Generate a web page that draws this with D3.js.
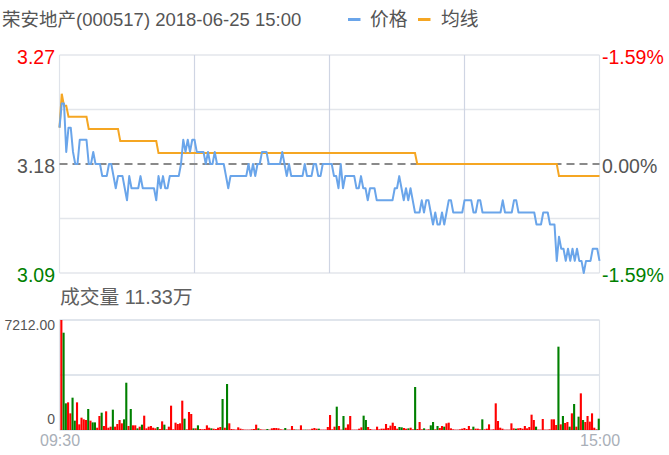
<!DOCTYPE html>
<html><head><meta charset="utf-8">
<script src="https://cdn.jsdelivr.net/npm/d3@7"></script>
<style>
body{margin:0;background:#fff;}
svg{display:block;font-family:"Liberation Sans","Noto Sans CJK SC",Arial,sans-serif;}
</style></head><body>
<svg id="c" width="669" height="455"></svg>
<script>
const titleText = "荣安地产(000517) 2018-06-25 15:00";
const legendNames = ["价格", "均线"];
const priceTicks = [3.27, 3.18, 3.09];
const priceTickClass = ["up", "flat", "down"];
const pctLabels = ["-1.59%", "0.00%", "-1.59%"];
const priceGrid = [3.27, 3.225, 3.135, 3.09];
const preClose = 3.18;
const timeGridIdx = [0, 60, 120, 180, 240];
const timeTicks = [0, 240];
const timeLabels = ["09:30", "15:00"];
const volTicks = [7212, 0];
const volTickLabels = ["7212.00", "0"];
const volGrid = [7212, 3606, 0];
const volTitle = "成交量 11.33万";

const price = [
3.21,3.23,3.23,3.19,3.21,3.21,3.19,3.18,3.18,3.20,
3.20,3.20,3.20,3.18,3.18,3.19,3.18,3.18,3.18,3.17,
3.17,3.17,3.18,3.18,3.17,3.16,3.17,3.17,3.17,3.16,
3.15,3.17,3.16,3.16,3.16,3.16,3.17,3.16,3.16,3.16,
3.16,3.16,3.16,3.15,3.17,3.16,3.17,3.16,3.16,3.17,
3.17,3.17,3.17,3.17,3.18,3.20,3.19,3.20,3.19,3.20,
3.20,3.19,3.19,3.19,3.19,3.18,3.19,3.18,3.18,3.19,
3.18,3.18,3.18,3.18,3.17,3.16,3.17,3.17,3.17,3.17,
3.17,3.17,3.17,3.17,3.18,3.17,3.18,3.17,3.18,3.18,
3.19,3.19,3.19,3.18,3.18,3.18,3.18,3.18,3.18,3.19,
3.18,3.17,3.18,3.17,3.17,3.17,3.17,3.17,3.17,3.18,
3.17,3.17,3.17,3.18,3.18,3.17,3.17,3.18,3.18,3.18,
3.18,3.18,3.17,3.17,3.16,3.18,3.16,3.17,3.17,3.17,
3.17,3.17,3.16,3.16,3.17,3.16,3.16,3.15,3.16,3.16,
3.16,3.15,3.15,3.15,3.15,3.15,3.15,3.15,3.15,3.16,
3.16,3.17,3.16,3.15,3.16,3.15,3.16,3.15,3.14,3.14,
3.14,3.15,3.14,3.15,3.15,3.14,3.13,3.14,3.13,3.13,
3.14,3.13,3.14,3.15,3.15,3.14,3.14,3.14,3.14,3.14,
3.15,3.15,3.15,3.15,3.14,3.14,3.15,3.15,3.14,3.14,
3.14,3.14,3.14,3.14,3.14,3.14,3.14,3.15,3.14,3.14,
3.14,3.14,3.15,3.15,3.14,3.14,3.14,3.14,3.14,3.14,
3.14,3.14,3.13,3.13,3.13,3.14,3.14,3.14,3.13,3.13,
3.13,3.10,3.12,3.11,3.11,3.10,3.11,3.10,3.11,3.10,
3.11,3.10,3.10,3.09,3.10,3.10,3.10,3.11,3.11,3.11,
3.10];

const avg = [
3.21,3.238,3.228,3.228,3.219,3.219,3.219,3.219,3.219,3.219,
3.219,3.219,3.219,3.209,3.209,3.209,3.209,3.209,3.209,3.209,
3.209,3.209,3.209,3.209,3.209,3.209,3.209,3.199,3.199,3.199,
3.199,3.199,3.199,3.199,3.199,3.199,3.199,3.199,3.199,3.199,
3.199,3.199,3.199,3.199,3.189,3.189,3.189,3.189,3.189,3.189,
3.189,3.189,3.189,3.189,3.189,3.189,3.189,3.189,3.189,3.189,
3.189,3.189,3.189,3.189,3.189,3.189,3.189,3.189,3.189,3.189,
3.189,3.189,3.189,3.189,3.189,3.189,3.189,3.189,3.189,3.189,
3.189,3.189,3.189,3.189,3.189,3.189,3.189,3.189,3.189,3.189,
3.189,3.189,3.189,3.189,3.189,3.189,3.189,3.189,3.189,3.189,
3.189,3.189,3.189,3.189,3.189,3.189,3.189,3.189,3.189,3.189,
3.189,3.189,3.189,3.189,3.189,3.189,3.189,3.189,3.189,3.189,
3.189,3.189,3.189,3.189,3.189,3.189,3.189,3.189,3.189,3.189,
3.189,3.189,3.189,3.189,3.189,3.189,3.189,3.189,3.189,3.189,
3.189,3.189,3.189,3.189,3.189,3.189,3.189,3.189,3.189,3.189,
3.189,3.189,3.189,3.189,3.189,3.189,3.189,3.189,3.189,3.180,
3.180,3.180,3.180,3.180,3.180,3.180,3.180,3.180,3.180,3.180,
3.180,3.180,3.180,3.180,3.180,3.180,3.180,3.180,3.180,3.180,
3.180,3.180,3.180,3.180,3.180,3.180,3.180,3.180,3.180,3.180,
3.180,3.180,3.180,3.180,3.180,3.180,3.180,3.180,3.180,3.180,
3.180,3.180,3.180,3.180,3.180,3.180,3.180,3.180,3.180,3.180,
3.180,3.180,3.180,3.180,3.180,3.180,3.180,3.180,3.180,3.180,
3.180,3.180,3.170,3.170,3.170,3.170,3.170,3.170,3.170,3.170,
3.170,3.170,3.170,3.170,3.170,3.170,3.170,3.170,3.170,3.170,
3.170];

const volume = [
7212,6380,1748,1813,1092,2119,612,1813,371,808,
700,655,1377,612,500,500,150,918,1136,262,
1224,150,218,1333,218,393,655,437,700,3100,
262,1377,306,306,109,218,350,940,109,218,
262,150,109,197,66,568,350,44,218,1595,
44,480,393,437,1923,743,44,1180,1049,109,
109,306,66,44,66,306,150,109,87,66,
150,197,2032,150,3015,437,66,44,22,175,
87,44,22,22,22,44,66,350,109,44,
22,22,66,22,109,131,131,109,44,22,
131,22,22,262,44,22,22,306,22,22,
22,22,87,131,87,87,22,22,22,197,
983,44,218,1530,262,22,918,150,371,918,
22,22,22,87,175,940,655,197,66,22,
22,218,44,87,87,393,131,284,480,262,
87,197,175,131,87,109,150,44,2819,66,
524,44,109,22,44,306,524,44,262,131,
262,218,437,480,109,44,22,22,44,87,
131,66,262,44,218,87,87,44,700,44,
87,371,22,44,1748,590,150,87,22,22,
22,437,109,87,109,131,87,262,109,197,
1005,655,218,22,22,721,22,22,44,700,
700,328,5463,371,918,459,524,218,1092,1704,
218,874,2403,655,524,918,546,1092,150,44,
743];

const volDir = (
"rggrrggrrr"+"rrgrggrrgr"+"rrrgrrrrgg"+"rgrrgrgrrr"+"rrrgrrgrrr"+
"rrrrrgrrrg"+"rgrrrrrgrr"+"rrgrgrrrrr"+"rrrrrrrrgr"+"rrgrrrrrrr"+
"grrrrgrrrg"+"rrrrrgrrrr"+"rrrgrrgrrr"+"rrrrrggrrr"+"rrrrrrrrrr"+
"rggrrgrrgr"+"rrgrrggrgr"+"rgrrrrrrrr"+"rrrrgrrrgr"+"rrrrrrrrrr"+
"rrrgrrrrrr"+"rrgrrrrrrr"+"rrgrgrrgrg"+"rgrgrrrrrr"+"g").split("");

const svg = d3.select("#c");
const L = 59.5, R = 599.5, PT = 55, PB = 273, VT = 320, VB = 430;
const RED = "#ff0000", GREEN = "#008000", GRAY = "#555";
const BLUE = "#6aa5ea", ORANGE = "#f5a623";

const x = d3.scaleLinear().domain([0, price.length - 1]).range([L, R]);
const y = d3.scaleLinear().domain([3.09, 3.27]).range([PB, PT]);
const xb = d3.scaleBand().domain(d3.range(volume.length)).range([L + 0.8, R + 0.3]).paddingInner(0.06);
const yv = d3.scaleLinear().domain([0, 7212]).range([VB, VT]);

// title
svg.append("text").attr("x", 2).attr("y", 26).attr("font-size", 18.5).attr("fill", GRAY).text(titleText);
// legend
const lg = [{n: legendNames[0], c: BLUE, lx: 348, tx: 370}, {n: legendNames[1], c: ORANGE, lx: 418, tx: 441}];
lg.forEach(d => {
  svg.append("line").attr("x1", d.lx).attr("x2", d.lx + 12.5).attr("y1", 19.5).attr("y2", 19.5)
    .attr("stroke", d.c).attr("stroke-width", 3);
  svg.append("text").attr("x", d.tx).attr("y", 26).attr("font-size", 18.8).attr("fill", GRAY).text(d.n);
});

// price grid
const g = svg.append("g");
g.selectAll("line.h").data(priceGrid).join("line").attr("class", "h")
  .attr("x1", L).attr("x2", R).attr("y1", d => y(d)).attr("y2", d => y(d))
  .attr("stroke", "#e3e6eb").attr("stroke-width", 1.6);
g.selectAll("line.v").data(timeGridIdx).join("line").attr("class", "v")
  .attr("x1", d => x(d)).attr("x2", d => x(d)).attr("y1", PT).attr("y2", PB)
  .attr("stroke", d => (d === 0 || d === 240) ? "#dfe3ea" : "#cfd5e3").attr("stroke-width", 1.2);
g.append("line").attr("x1", L).attr("x2", R).attr("y1", y(preClose)).attr("y2", y(preClose))
  .attr("stroke", "#8a8a8a").attr("stroke-width", 2).attr("stroke-dasharray", "8,5");

// lines
const lineGen = d3.line().x((d, i) => x(i)).y(d => y(d));
svg.append("path").datum(avg).attr("d", lineGen).attr("fill", "none").attr("stroke", ORANGE).attr("stroke-width", 2);
svg.append("path").datum(price).attr("d", lineGen).attr("fill", "none").attr("stroke", BLUE).attr("stroke-width", 2).attr("stroke-linejoin", "round");

// left axis
const colorFor = c => c === "up" ? RED : c === "down" ? GREEN : GRAY;
const ax = svg.append("g").attr("transform", `translate(${L},0)`)
  .call(d3.axisLeft(y).tickValues(priceTicks).tickSize(0).tickPadding(4.5).tickFormat(d3.format(".2f")));
ax.select(".domain").remove();
ax.selectAll("text").attr("font-size", 19.5).attr("font-family", null).attr("dy", "0.42em")
  .attr("fill", (d, i) => colorFor(priceTickClass[i]));
// right axis
const axr = svg.append("g").attr("transform", `translate(${R},0)`)
  .call(d3.axisRight(y).tickValues(priceTicks).tickSize(0).tickPadding(2.5).tickFormat((d, i) => pctLabels[i]));
axr.select(".domain").remove();
axr.selectAll("text").attr("font-size", 19.5).attr("font-family", null).attr("dy", "0.42em")
  .attr("fill", (d, i) => colorFor(priceTickClass[i]));

// volume title
svg.append("text").attr("x", 60).attr("y", 304).attr("font-size", 19.8).attr("fill", "#606060").text(volTitle);

// volume grid
const vg = svg.append("g");
vg.selectAll("line.h").data(volGrid).join("line").attr("class", "h")
  .attr("x1", L).attr("x2", R).attr("y1", d => yv(d)).attr("y2", d => yv(d))
  .attr("stroke", "#d6dce6").attr("stroke-width", 1.4);
[L, R].forEach(px => vg.append("line").attr("x1", px).attr("x2", px).attr("y1", VT).attr("y2", VB)
  .attr("stroke", "#dfe3ea").attr("stroke-width", 1.2));

// bars
svg.append("g").selectAll("rect").data(volume).join("rect")
  .attr("x", (d, i) => xb(i)).attr("width", xb.bandwidth())
  .attr("y", d => yv(d)).attr("height", d => VB - yv(d))
  .attr("fill", (d, i) => volDir[i] === "g" ? GREEN : RED);

// volume axis labels
const av = svg.append("g").attr("transform", `translate(${L},0)`)
  .call(d3.axisLeft(yv).tickValues(volTicks).tickSize(0).tickPadding(4.5).tickFormat((d, i) => volTickLabels[i]));
av.select(".domain").remove();
av.selectAll("text").attr("font-size", 14).attr("font-family", null).attr("fill", GRAY)
  .attr("dy", (d, i) => i === 0 ? "0.65em" : "-0.45em");

// time axis
const at = svg.append("g").attr("transform", `translate(0,${VB})`)
  .call(d3.axisBottom(x).tickValues(timeTicks).tickSize(0).tickPadding(5).tickFormat((d, i) => timeLabels[i]));
at.select(".domain").remove();
at.selectAll("text").attr("font-size", 16).attr("font-family", null).attr("fill", "#a9afb8");
</script>
</body></html>
